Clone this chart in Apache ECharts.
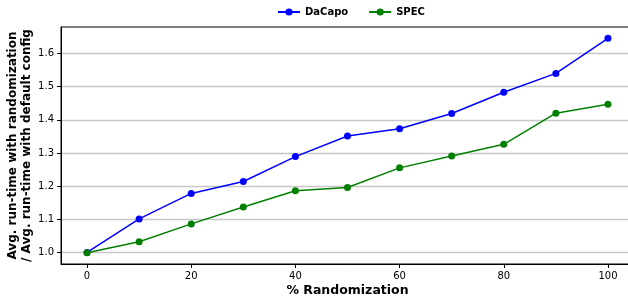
<!DOCTYPE html>
<html>
<head>
<meta charset="utf-8">
<script src="https://cdn.jsdelivr.net/npm/echarts@6/dist/echarts.min.js"></script>
<style>
  html, body { margin: 0; padding: 0; background: #fff; }
  #chart { width: 628px; height: 298px; }
</style>
</head>
<body>
<div id="chart"></div>
<script>
// Data
var randomization = [0, 10, 20, 30, 40, 50, 60, 70, 80, 90, 100];
var dacapo = [1.000, 1.101, 1.178, 1.214, 1.289, 1.351, 1.373, 1.419, 1.483, 1.540, 1.646];
var spec   = [0.999, 1.032, 1.086, 1.137, 1.186, 1.196, 1.255, 1.291, 1.326, 1.420, 1.447];
var xTicks = [0, 20, 40, 60, 80, 100];
var yTicks = [1.0, 1.1, 1.2, 1.3, 1.4, 1.5, 1.6];

var pairs = function(xs, ys) {
    return xs.map(function(x, i) { return [x, ys[i]]; });
};

var chart = echarts.init(document.getElementById('chart'));
var font = 'DejaVu Sans';

chart.setOption({
    animation: false,
    color: ['#0000ff', '#008000'],
    textStyle: { fontFamily: font },

    // Setup grid (right edge of the frame is cropped off like the reference)
    grid: {
        left: 61,
        right: -6,
        top: 27,
        bottom: 34,
        show: true,
        borderColor: '#000',
        borderWidth: 1,
        containLabel: false,
        outerBoundsMode: 'none'
    },

    // Legend
    legend: {
        data: ['DaCapo', 'SPEC'],
        left: 272,
        top: 2,
        itemWidth: 22,
        itemHeight: 9,
        itemGap: 20,
        textStyle: { fontFamily: font, fontWeight: 'bold', fontSize: 10, color: '#000' }
    },

    // Horizontal axis
    xAxis: {
        type: 'value',
        min: -5,
        max: 105,
        name: '% Randomization',
        nameLocation: 'middle',
        nameGap: 20,
        nameMoveOverlap: false,
        nameTextStyle: { fontFamily: font, fontWeight: 'bold', fontSize: 12.5, color: '#000' },
        axisLine: { onZero: false, lineStyle: { color: '#000', width: 1 } },
        axisTick: { show: true, length: 4, customValues: xTicks, lineStyle: { color: '#000' } },
        axisLabel: { customValues: xTicks, margin: 7, fontSize: 10, color: '#000', fontFamily: font },
        splitLine: { show: false }
    },

    // Vertical axis
    yAxis: {
        type: 'value',
        min: 0.965,
        max: 1.68,
        name: 'Avg. run-time with randomization\n/ Avg. run-time with default config',
        nameLocation: 'middle',
        nameRotate: 90,
        nameGap: 27,
        nameMoveOverlap: false,
        nameTextStyle: { fontFamily: font, fontWeight: 'bold', fontSize: 12, color: '#000', lineHeight: 14 },
        axisLine: { show: true, onZero: false, lineStyle: { color: '#000', width: 1 } },
        axisTick: { show: true, length: 4, customValues: yTicks, lineStyle: { color: '#000' } },
        axisLabel: {
            customValues: yTicks,
            margin: 7,
            fontSize: 10,
            color: '#000',
            fontFamily: font,
            formatter: function(v) { return v.toFixed(1); }
        },
        splitLine: { show: true, lineStyle: { color: '#c8c8c8', width: 1.3 } }
    },

    series: [
        {
            name: 'DaCapo',
            type: 'line',
            data: pairs(randomization, dacapo),
            symbol: 'circle',
            symbolSize: 7,
            lineStyle: { width: 1.5 },
            z: 2
        },
        {
            name: 'SPEC',
            type: 'line',
            data: pairs(randomization, spec),
            symbol: 'circle',
            symbolSize: 7,
            lineStyle: { width: 1.5 },
            z: 3
        }
    ]
});
</script>
</body>
</html>
